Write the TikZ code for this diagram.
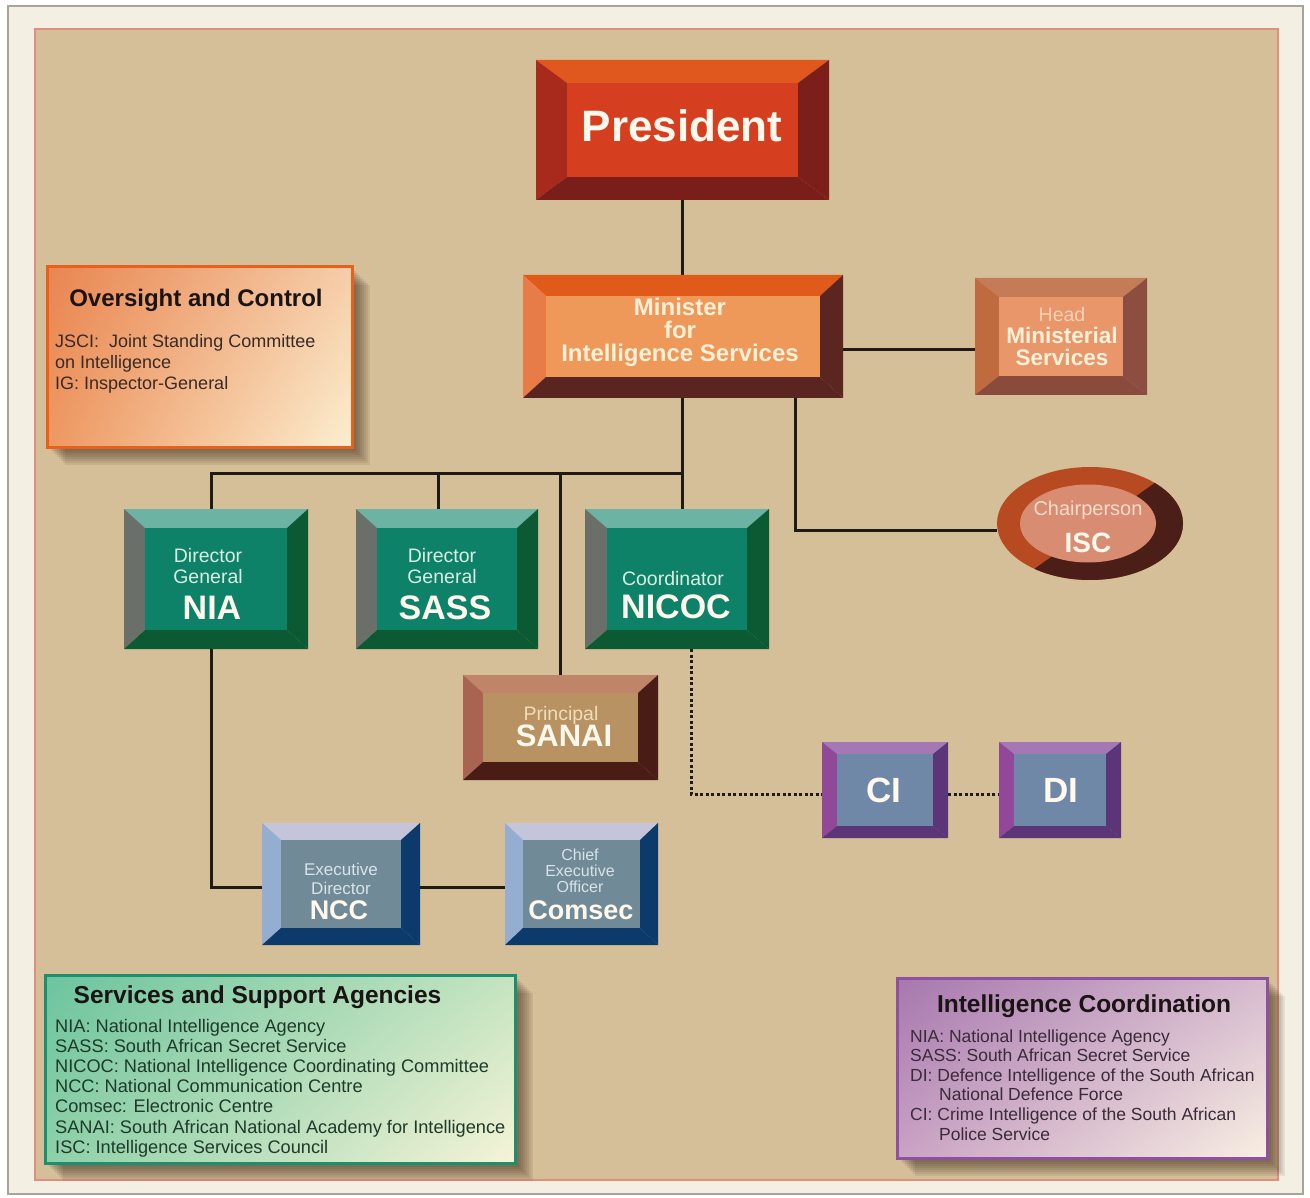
\documentclass[tikz,border=0pt]{standalone}
\usepackage{fontspec}
\setmainfont{Liberation Sans}
\usetikzlibrary{shapes.geometric,shadings}
\pgfdeclarelayer{back}
\pgfdeclarelayer{bg}
\pgfsetlayers{back,bg,main}
% frame
\definecolor{framec}{HTML}{F3EFE3}
\definecolor{frameline}{HTML}{A8A49C}
\definecolor{panelc}{HTML}{D5BF98}
\definecolor{panelline}{HTML}{E0907A}
\definecolor{connc}{HTML}{201A14}
\definecolor{shadowc}{HTML}{3A2A1A}
% president
\definecolor{presT}{HTML}{E0581E}
\definecolor{presL}{HTML}{A82A1C}
\definecolor{presR}{HTML}{7C1E1A}
\definecolor{presB}{HTML}{7A1E1A}
\definecolor{presF}{HTML}{D63E20}
% minister
\definecolor{minT}{HTML}{E05A1A}
\definecolor{minL}{HTML}{E87C48}
\definecolor{minR}{HTML}{5C2620}
\definecolor{minB}{HTML}{5A2420}
\definecolor{minF}{HTML}{EE985A}
% head
\definecolor{headT}{HTML}{C47C58}
\definecolor{headL}{HTML}{C06A40}
\definecolor{headR}{HTML}{8C4E40}
\definecolor{headB}{HTML}{8A4A3C}
\definecolor{headF}{HTML}{E8966A}
% teal
\definecolor{tealT}{HTML}{6DB3A3}
\definecolor{tealL}{HTML}{6B6F6A}
\definecolor{tealR}{HTML}{0B5A34}
\definecolor{tealB}{HTML}{0B5A34}
\definecolor{tealF}{HTML}{0E8268}
% sanai
\definecolor{sanT}{HTML}{C08468}
\definecolor{sanL}{HTML}{A86450}
\definecolor{sanR}{HTML}{4A1C16}
\definecolor{sanB}{HTML}{4A1C16}
\definecolor{sanF}{HTML}{B89262}
% ncc / comsec
\definecolor{ncT}{HTML}{C4C4DA}
\definecolor{ncL}{HTML}{94AED2}
\definecolor{ncR}{HTML}{0C3A6A}
\definecolor{ncB}{HTML}{0C3A6A}
\definecolor{ncF}{HTML}{718A98}
% ci / di
\definecolor{ciT}{HTML}{A478B4}
\definecolor{ciL}{HTML}{924898}
\definecolor{ciR}{HTML}{5C3478}
\definecolor{ciB}{HTML}{5C3478}
\definecolor{ciF}{HTML}{7088A8}
% isc
\definecolor{iscRust}{HTML}{B84A22}
\definecolor{iscDark}{HTML}{4C1E18}
\definecolor{iscIn}{HTML}{D88C72}
% text colours
\definecolor{txtW}{HTML}{FFF8EC}
\definecolor{txtMin}{HTML}{FFF0D8}
\definecolor{txtHead}{HTML}{F6D2B4}
\definecolor{txtIsc}{HTML}{F4DCCC}
\definecolor{txtTeal}{HTML}{D9EEE4}
\definecolor{txtSan}{HTML}{F2DDB8}
\definecolor{txtNc}{HTML}{D8E2EA}
\definecolor{ovsTitle}{HTML}{1A1414}
\definecolor{ovsBody}{HTML}{3A2A25}
\definecolor{ssaBody}{HTML}{1E3A2A}
\definecolor{icoBody}{HTML}{3A2A3A}
\definecolor{ovsLine}{HTML}{E8601A}
\definecolor{ssaLine}{HTML}{1A9070}
\definecolor{icoLine}{HTML}{9050A0}
% gradients
\definecolor{ovsUL}{HTML}{E98550}
\definecolor{ovsLL}{HTML}{EE9862}
\definecolor{ovsUR}{HTML}{F5CDA8}
\definecolor{ovsLR}{HTML}{FCEFD0}
\definecolor{ssaUL}{HTML}{6CC49E}
\definecolor{ssaLL}{HTML}{8ED0A8}
\definecolor{ssaUR}{HTML}{C5E4C0}
\definecolor{ssaLR}{HTML}{F6F4D8}
\definecolor{icoUL}{HTML}{A677AE}
\definecolor{icoLL}{HTML}{C9A2C4}
\definecolor{icoUR}{HTML}{D7BBCF}
\definecolor{icoLR}{HTML}{F8EFE2}

% #1 name, #2 x1, #3 y1, #4 x2, #5 y2, #6 bevel x, #7 bevel y, #8 scheme
\newcommand\bevbox[8]{%
  \fill[#8T] (#2,#3) -- (#4,#3) -- ({#4-#6},{#3+#7}) -- ({#2+#6},{#3+#7}) -- cycle;
  \fill[#8L] (#2,#3) -- ({#2+#6},{#3+#7}) -- ({#2+#6},{#5-#7}) -- (#2,#5) -- cycle;
  \fill[#8R] (#4,#3) -- (#4,#5) -- ({#4-#6},{#5-#7}) -- ({#4-#6},{#3+#7}) -- cycle;
  \fill[#8B] (#2,#5) -- (#4,#5) -- ({#4-#6},{#5-#7}) -- ({#2+#6},{#5-#7}) -- cycle;
  \fill[#8F] ({#2+#6},{#3+#7}) rectangle ({#4-#6},{#5-#7});
  \node[inner sep=0pt, outer sep=0pt, minimum width={(#4-#2)*1pt},
        minimum height={(#5-#3)*1pt}] (#1) at ({(#2+#4)/2},{(#3+#5)/2}) {};
}
% soft shadow: x1 y1 x2 y2
\newcommand\softshadow[4]{%
  \foreach \d in {4,6,...,18}
    \fill[shadowc, opacity=0.09] ({#1+\d},{#2+\d}) rectangle ({#3+\d},{#4+\d});
}

\tikzset{
  conn/.style={line width=3pt, draw=connc},
  dotconn/.style={line width=3pt, draw=connc, dash pattern=on 3pt off 2.5pt},
  txt/.style={inner sep=0pt, anchor=base, align=center},
  body/.style={inner sep=0pt, anchor=base west},
  infobox/.style={line width=3pt, inner sep=0pt},
}

\begin{document}
\begin{tikzpicture}[x=1pt, y=-1pt]
\useasboundingbox (0,0) rectangle (1310,1198);

\begin{pgfonlayer}{back}
  \fill[white] (0,0) rectangle (1310,1198);
  \filldraw[fill=framec, draw=frameline, line width=1.5pt] (8,6) rectangle (1303,1194);
  \filldraw[fill=panelc, draw=panelline, line width=2.5pt] (35,29) rectangle (1278,1180);
\end{pgfonlayer}

% ---------- boxes ----------
\bevbox{pres}{536}{60}{829}{200}{31}{23}{pres}
\node[txt, text=txtW, font=\bfseries\fontsize{44}{50}\selectfont] (presT) at (682,142) {President};

\bevbox{min}{523}{275}{843}{398}{23}{21}{min}
\node[txt, text=txtMin, font=\bfseries\fontsize{24}{28}\selectfont] (minT1) at (680,316) {Minister};
\node[txt, text=txtMin, font=\bfseries\fontsize{24}{28}\selectfont] (minT2) at (680,339) {for};
\node[txt, text=txtMin, font=\bfseries\fontsize{24}{28}\selectfont] (minT3) at (680,362) {Intelligence Services};

\bevbox{head}{975}{278}{1147}{395}{24}{19}{head}
\node[txt, text=txtHead, font=\fontsize{19.5}{22}\selectfont] (headT1) at (1062,322) {Head};
\node[txt, text=txtMin, font=\bfseries\fontsize{22.5}{26}\selectfont] (headT2) at (1062,344) {Ministerial};
\node[txt, text=txtMin, font=\bfseries\fontsize{22.5}{26}\selectfont] (headT3) at (1062,366) {Services};

% ISC ellipse
\fill[iscRust] (1090,523.5) ellipse [x radius=93, y radius=56.5];
\begin{scope}
  \clip (1090,523.5) ellipse [x radius=93, y radius=56.5];
  \fill[iscDark] (1352,342) -- (827,717) -- (1400,717) -- (1400,342) -- cycle;
\end{scope}
\fill[iscIn] (1088,523.5) ellipse [x radius=68, y radius=39];
\node[ellipse, inner sep=0pt, outer sep=0pt, minimum width=186pt, minimum height=113pt] (isc) at (1090,523.5) {};
\node[txt, text=txtIsc, font=\fontsize{20}{24}\selectfont] (iscT1) at (1088,515) {Chairperson};
\node[txt, text=txtW, font=\bfseries\fontsize{28}{32}\selectfont] (iscT2) at (1088,552) {ISC};

% teal
\bevbox{nia}{124}{509}{308}{649}{21}{19}{teal}
\node[txt, text=txtTeal, font=\fontsize{19.5}{22}\selectfont] (niaT1) at (208,562) {Director};
\node[txt, text=txtTeal, font=\fontsize{19.5}{22}\selectfont] (niaT2) at (208,583) {General};
\node[txt, text=txtW, font=\bfseries\fontsize{34}{38}\selectfont] (niaT3) at (212,619) {NIA};

\bevbox{sass}{356}{509}{538}{649}{21}{19}{teal}
\node[txt, text=txtTeal, font=\fontsize{19.5}{22}\selectfont] (sassT1) at (442,562) {Director};
\node[txt, text=txtTeal, font=\fontsize{19.5}{22}\selectfont] (sassT2) at (442,583) {General};
\node[txt, text=txtW, font=\bfseries\fontsize{34}{38}\selectfont] (sassT3) at (445,619) {SASS};

\bevbox{nicoc}{585}{509}{769}{649}{22}{19}{teal}
\node[txt, text=txtTeal, font=\fontsize{19.5}{22}\selectfont] (nicocT1) at (673,585) {Coordinator};
\node[txt, text=txtW, font=\bfseries\fontsize{34}{38}\selectfont] (nicocT2) at (676,618) {NICOC};

\bevbox{sanai}{463}{675}{658}{780}{20}{18}{san}
\node[txt, text=txtSan, font=\fontsize{19.5}{22}\selectfont] (sanaiT1) at (561,720) {Principal};
\node[txt, text=txtW, font=\bfseries\fontsize{31}{34}\selectfont] (sanaiT2) at (564,746) {SANAI};

\bevbox{ncc}{262}{823}{420}{945}{19}{17}{nc}
\node[txt, text=txtNc, font=\fontsize{17}{19}\selectfont] (nccT1) at (341,875) {Executive};
\node[txt, text=txtNc, font=\fontsize{17}{19}\selectfont] (nccT2) at (341,894) {Director};
\node[txt, text=txtW, font=\bfseries\fontsize{27}{30}\selectfont] (nccT3) at (339,919) {NCC};

\bevbox{comsec}{505}{823}{658}{945}{18}{17}{nc}
\node[txt, text=txtNc, font=\fontsize{16}{18}\selectfont] (comT1) at (580,860) {Chief};
\node[txt, text=txtNc, font=\fontsize{16}{18}\selectfont] (comT2) at (580,876) {Executive};
\node[txt, text=txtNc, font=\fontsize{16}{18}\selectfont] (comT3) at (580,892) {Officer};
\node[txt, text=txtW, font=\bfseries\fontsize{27}{30}\selectfont] (comT4) at (581,919) {Comsec};

\bevbox{ci}{822}{742}{948}{838}{15}{12}{ci}
\node[txt, text=txtW, font=\bfseries\fontsize{35}{38}\selectfont] (ciT) at (884,802) {CI};
\bevbox{di}{999}{742}{1121}{838}{15}{12}{ci}
\node[txt, text=txtW, font=\bfseries\fontsize{35}{38}\selectfont] (diT) at (1061,802) {DI};

% ---------- connectors ----------
\begin{pgfonlayer}{bg}
  \coordinate (busR) at (682,473);
  \coordinate (headY) at (0,350);
  \draw[conn] (pres.south -| busR) -- (min.north -| busR);
  \draw[conn] (min.east |- headY) -- (head.west |- headY);
  \draw[conn] (min.south -| busR) -- (nicoc.north -| busR);
  \draw[conn] ([xshift=-5pt]nia.north) |- (busR);
  \draw[conn] ([xshift=-9pt]sass.north) -- ([xshift=-9pt]sass.north |- busR);
  \draw[conn] (sanai.north) -- (sanai.north |- busR);
  \draw[conn] ([xshift=112pt]min.south) |- ([yshift=-7pt]isc.west);
  \draw[conn] ([xshift=-5pt]nia.south) |- ([yshift=-3pt]ncc.west);
  \draw[conn] ([yshift=-3pt]ncc.east) -- ([yshift=-3pt]comsec.west);
  \draw[dotconn] ([xshift=14pt]nicoc.south) |- ([yshift=-4pt]ci.west);
  \draw[dotconn] ([yshift=-4pt]ci.east) -- ([yshift=-4pt]di.west);
\end{pgfonlayer}

% ---------- info boxes ----------
\softshadow{47}{267}{352}{447}
\node[infobox, draw=ovsLine, minimum width=305pt, minimum height=180pt,
  upper left=ovsUL, lower left=ovsLL, upper right=ovsUR, lower right=ovsLR]
  (ovs) at (199.5,357) {};
\node[txt, text=ovsTitle, font=\bfseries\fontsize{24}{28}\selectfont] (ovsT) at (196,307) {Oversight and Control};
\node[body, text=ovsBody, font=\fontsize{18}{20}\selectfont] (ovs1) at (55,348) {JSCI:\ \ Joint Standing Committee};
\node[body, text=ovsBody, font=\fontsize{18}{20}\selectfont] (ovs2) at (55,369) {on Intelligence};
\node[body, text=ovsBody, font=\fontsize{18}{20}\selectfont] (ovs3) at (55,389) {IG: Inspector-General};

\softshadow{45}{975}{515}{1163}
\node[infobox, draw=ssaLine, minimum width=470pt, minimum height=188pt,
  upper left=ssaUL, lower left=ssaLL, upper right=ssaUR, lower right=ssaLR]
  (ssa) at (280,1069) {};
\node[txt, text=ovsTitle, font=\bfseries\fontsize{24.5}{28}\selectfont] (ssaT) at (257.5,1003) {Services and Support Agencies};
\foreach \t [count=\i] in {NIA: National Intelligence Agency,
  SASS: South African Secret Service,
  NICOC: National Intelligence Coordinating Committee,
  NCC: National Communication Centre,
  Comsec: Electronic Centre,
  SANAI: South African National Academy for Intelligence,
  ISC: Intelligence Services Council}
  \node[body, text=ssaBody, font=\fontsize{18.2}{20}\selectfont] (ssa\i) at (55,{1032+20.2*(\i-1)}) {\t};

\softshadow{897}{978}{1267}{1158}
\node[infobox, draw=icoLine, minimum width=370pt, minimum height=180pt,
  upper left=icoUL, lower left=icoLL, upper right=icoUR, lower right=icoLR]
  (ico) at (1082,1068) {};
\node[txt, text=ovsTitle, font=\bfseries\fontsize{24.5}{28}\selectfont] (icoT) at (1084,1012) {Intelligence Coordination};
\foreach \t [count=\i] in {NIA: National Intelligence Agency,
  SASS: South African Secret Service,
  DI: Defence Intelligence of the South African,
  {\hspace*{29pt}National Defence Force},
  CI: Crime Intelligence of the South African,
  {\hspace*{29pt}Police Service}}
  \node[body, text=icoBody, font=\fontsize{17.5}{20}\selectfont] (ico\i) at (910,{1042+19.6*(\i-1)}) {\t};

\end{tikzpicture}
\end{document}
